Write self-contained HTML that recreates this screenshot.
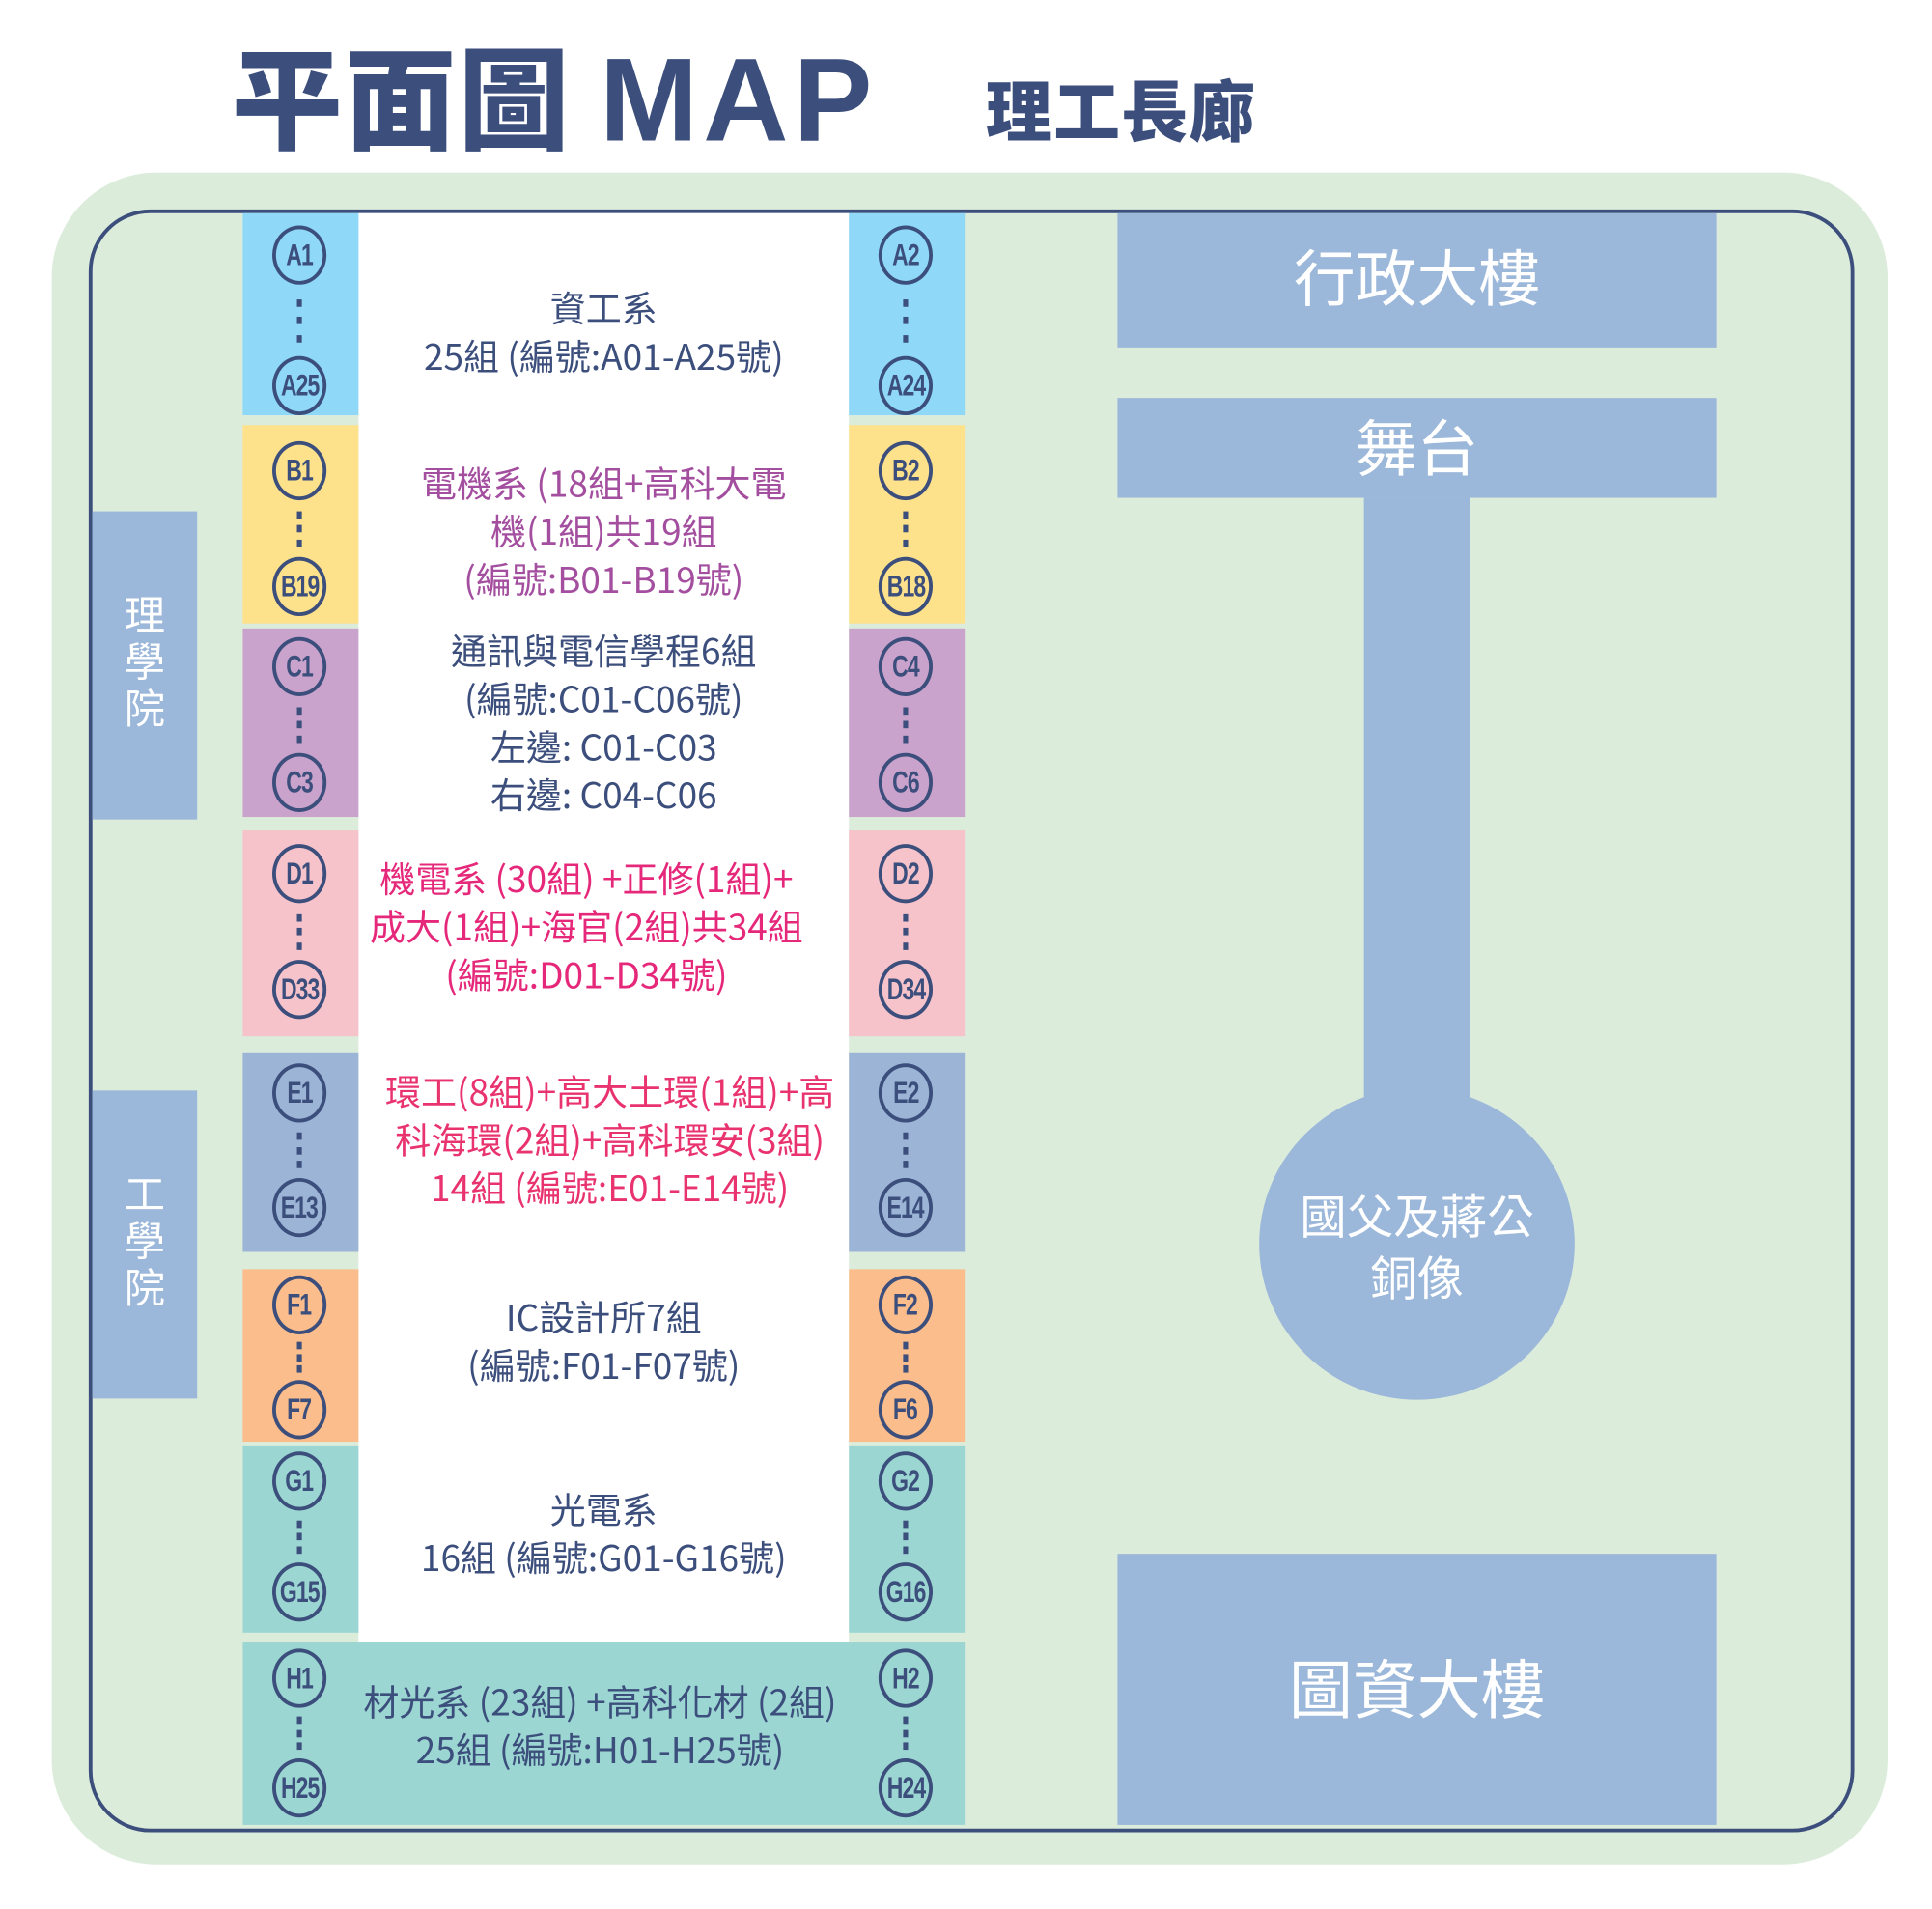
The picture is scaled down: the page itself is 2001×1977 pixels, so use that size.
<!DOCTYPE html>
<html><head><meta charset="utf-8"><style>
html,body{margin:0;padding:0;background:#fff;}
body{width:2001px;height:1976px;overflow:hidden;position:relative;}
#s{position:absolute;left:0;top:0;width:1568px;height:1549px;transform:scale(1.2761);transform-origin:0 0;font-family:"Liberation Sans","Noto Sans CJK TC",sans-serif;}
.a{position:absolute;}
.c{position:absolute;width:38px;height:42px;border:3px solid #3b4e7c;border-radius:50%;color:#3b4e7c;font-weight:bold;font-size:25px;line-height:42px;text-align:center;letter-spacing:-1px;white-space:nowrap;}
.c span{display:inline-block;transform:scaleX(0.72);margin:0 -10px;}
.d{position:absolute;width:4px;height:6px;background:#3b4e7c;}
.t{position:absolute;text-align:center;font-size:29px;line-height:39px;white-space:nowrap;font-family:"Noto Sans CJK TC","Liberation Sans",sans-serif;}
.w{color:#fff;font-family:"Noto Sans CJK TC",sans-serif;text-align:center;position:absolute;}
</style></head><body><div id="s">
<div class="a" style="left:188px;top:20px;font-size:90px;font-weight:900;color:#3b4e7c;font-family:'Noto Sans CJK TC','Liberation Sans',sans-serif;line-height:110px;letter-spacing:2px;white-space:nowrap;">平面圖 <span style="font-family:'Liberation Sans',sans-serif;font-weight:bold;font-size:96px;letter-spacing:4px;">MAP</span></div>
<div class="a" style="left:800px;top:52px;font-size:54px;font-weight:900;color:#3b4e7c;font-family:'Noto Sans CJK TC',sans-serif;line-height:70px;letter-spacing:1px;">理工長廊</div>

<div class="a" style="left:42px;top:140px;width:1490px;height:1373px;background:#dcecdb;border-radius:85px;"></div>
<div class="a" style="left:72px;top:170px;width:1427px;height:1311px;border:3px solid #3b4e7c;border-radius:50px;"></div>

<div class="a" style="left:291px;top:173px;width:398px;height:1160px;background:#fff;"></div>

<div class="a" style="left:75px;top:415px;width:85px;height:250px;background:#9bb7d9;"></div>
<div class="w" style="left:75px;top:478px;width:85px;font-size:33px;line-height:38px;">理<br>學<br>院</div>
<div class="a" style="left:75px;top:885px;width:85px;height:250px;background:#9bb7d9;"></div>
<div class="w" style="left:75px;top:948px;width:85px;font-size:33px;line-height:38px;">工<br>學<br>院</div>

<div class="a" style="left:907px;top:173px;width:486px;height:109px;background:#9bb7d9;"></div>
<div class="w" style="left:907px;top:190px;width:486px;font-size:50px;line-height:66px;">行政大樓</div>
<div class="a" style="left:907px;top:323px;width:486px;height:81px;background:#9bb7d9;"></div>
<div class="w" style="left:907px;top:328px;width:486px;font-size:50px;line-height:66px;">舞台</div>
<div class="a" style="left:1107px;top:404px;width:86px;height:500px;background:#9bb7d9;"></div>
<div class="a" style="left:1022px;top:883px;width:256px;height:253px;background:#9bb7d9;border-radius:50%;"></div>
<div class="w" style="left:1022px;top:960px;width:256px;font-size:38px;line-height:50px;">國父及蔣公<br>銅像</div>
<div class="a" style="left:907px;top:1261px;width:486px;height:220px;background:#9bb7d9;"></div>
<div class="w" style="left:907px;top:1333px;width:486px;font-size:52px;line-height:70px;">圖資大樓</div>

<div class="a" style="left:197px;top:173px;width:94px;height:164px;background:#8fd8f8"></div>
<div class="a" style="left:689px;top:173px;width:94px;height:164px;background:#8fd8f8"></div>
<div class="a" style="left:197px;top:345px;width:94px;height:161px;background:#fde18b"></div>
<div class="a" style="left:689px;top:345px;width:94px;height:161px;background:#fde18b"></div>
<div class="a" style="left:197px;top:510px;width:94px;height:153px;background:#c9a3cb"></div>
<div class="a" style="left:689px;top:510px;width:94px;height:153px;background:#c9a3cb"></div>
<div class="a" style="left:197px;top:674px;width:94px;height:167px;background:#f6c3cb"></div>
<div class="a" style="left:689px;top:674px;width:94px;height:167px;background:#f6c3cb"></div>
<div class="a" style="left:197px;top:854px;width:94px;height:162px;background:#9cb5d6"></div>
<div class="a" style="left:689px;top:854px;width:94px;height:162px;background:#9cb5d6"></div>
<div class="a" style="left:197px;top:1030px;width:94px;height:140px;background:#fbbd8b"></div>
<div class="a" style="left:689px;top:1030px;width:94px;height:140px;background:#fbbd8b"></div>
<div class="a" style="left:197px;top:1173px;width:94px;height:152px;background:#9cd6d2"></div>
<div class="a" style="left:689px;top:1173px;width:94px;height:152px;background:#9cd6d2"></div>
<div class="a" style="left:197px;top:1333px;width:586px;height:148px;background:#9cd6d2"></div>

<div id="circ"></div>

<div class="t" style="left:291px;width:398px;top:230px;color:#3b4e7c">資工系<br>25組 (編號:A01-A25號)</div>
<div class="t" style="left:291px;width:398px;top:372px;color:#a34e9e">電機系 (18組+高科大電<br>機(1組)共19組<br>(編號:B01-B19號)</div>
<div class="t" style="left:291px;width:398px;top:508px;color:#3b4e7c">通訊與電信學程6組<br>(編號:C01-C06號)<br>左邊: C01-C03<br>右邊: C04-C06</div>
<div class="t" style="left:277px;width:398px;top:693px;color:#e5287a">機電系 (30組) +正修(1組)+<br>成大(1組)+海官(2組)共34組<br>(編號:D01-D34號)</div>
<div class="t" style="left:296px;width:398px;top:866px;color:#e8336f">環工(8組)+高大土環(1組)+高<br>科海環(2組)+高科環安(3組)<br>14組 (編號:E01-E14號)</div>
<div class="t" style="left:291px;width:398px;top:1049px;color:#3b4e7c">IC設計所7組<br>(編號:F01-F07號)</div>
<div class="t" style="left:291px;width:398px;top:1205px;color:#3b4e7c">光電系<br>16組 (編號:G01-G16號)</div>
<div class="t" style="left:288px;width:398px;top:1361px;color:#3b4e7c">材光系 (23組) +高科化材 (2組)<br>25組 (編號:H01-H25號)</div>
</div>
<script>
var rows=[["A1","A25","A2","A24",207,313],["B1","B19","B2","B18",382,476],["C1","C3","C4","C6",541,635],["D1","D33","D2","D34",709,803],["E1","E13","E2","E14",887,980],["F1","F7","F2","F6",1059,1144],["G1","G15","G2","G16",1202,1292],["H1","H25","H2","H24",1362,1451]];
var h="";
rows.forEach(function(r){
 [[243,r[0],r[1]],[735,r[2],r[3]]].forEach(function(c){
  h+='<div class="c" style="left:'+(c[0]-22)+'px;top:'+(r[4]-24)+'px"><span>'+c[1]+'</span></div>';
  h+='<div class="c" style="left:'+(c[0]-22)+'px;top:'+(r[5]-24)+'px"><span>'+c[2]+'</span></div>';
  var a=r[4]+24,b=r[5]-24,n=3;
  for(var i=1;i<=n;i++){var y=a+(b-a)*i/(n+1);h+='<div class="d" style="left:'+(c[0]-2)+'px;top:'+(y-3)+'px"></div>';}
 });
});
document.getElementById("circ").innerHTML=h;
</script>
</body></html>
